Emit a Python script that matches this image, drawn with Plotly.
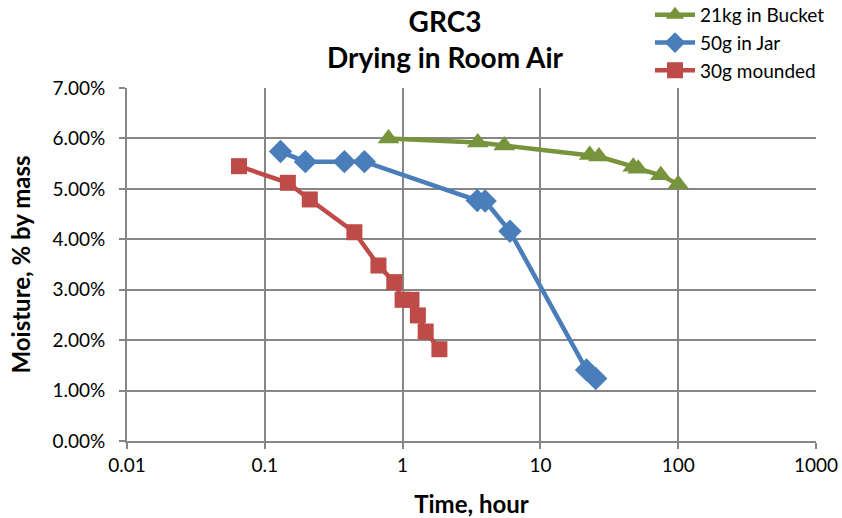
import plotly.graph_objects as go

# Data (time in hours, moisture in % by mass)
bucket_t = [0.79, 3.51, 5.46, 22.8, 26.6, 47.2, 51.3, 74.8, 100]
bucket_m = [6.00, 5.92, 5.86, 5.67, 5.64, 5.44, 5.40, 5.27, 5.09]

jar_t = [0.130, 0.197, 0.378, 0.528, 3.48, 3.97, 6.01, 21.6, 25.2]
jar_m = [5.74, 5.54, 5.54, 5.54, 4.77, 4.76, 4.16, 1.41, 1.24]

mound_t = [0.065, 0.147, 0.212, 0.447, 0.668, 0.87, 1.0, 1.16, 1.29, 1.47, 1.85]
mound_m = [5.45, 5.12, 4.79, 4.14, 3.48, 3.15, 2.80, 2.80, 2.49, 2.17, 1.82]

x_ticks = [0.01, 0.1, 1, 10, 100, 1000]
x_ticktext = ["0.01", "0.1", "1", "10", "100", "1000"]
y_ticks = [0, 1, 2, 3, 4, 5, 6, 7]
y_ticktext = ["0.00%", "1.00%", "2.00%", "3.00%", "4.00%", "5.00%", "6.00%", "7.00%"]

FONT = "Lato, 'Open Sans', sans-serif"
GRID = "#868686"

W, H = 842, 518
ML, MR, MT, MB = 127, 26, 88, 77
PW, PH = W - ML - MR, H - MT - MB


def px_x(p):
    return (p - ML) / PW


def px_y(p):
    return (H - MB - p) / PH


fig = go.Figure()
fig.add_trace(go.Scatter(x=bucket_t, y=bucket_m, name="21kg in Bucket", mode="lines+markers",
                         line=dict(color="#77933C", width=4.5),
                         marker=dict(symbol="triangle-up", size=19, color="#77933C")))
fig.add_trace(go.Scatter(x=jar_t, y=jar_m, name="50g in Jar", mode="lines+markers",
                         line=dict(color="#4A7EBB", width=4.5),
                         marker=dict(symbol="diamond", size=18, color="#4A7EBB")))
fig.add_trace(go.Scatter(x=mound_t, y=mound_m, name="30g mounded", mode="lines+markers",
                         line=dict(color="#BE4B48", width=4.5),
                         marker=dict(symbol="square", size=16, color="#BE4B48")))

fig.update_layout(
    width=W, height=H,
    margin=dict(l=ML, r=MR, t=MT, b=MB, autoexpand=False),
    paper_bgcolor="white", plot_bgcolor="white",
    font=dict(family=FONT, size=19, color="black"),
    showlegend=True,
    legend=dict(x=px_x(650), xanchor="left", y=px_y(-4), yanchor="top",
                bgcolor="rgba(255,255,255,0)", font=dict(size=19),
                itemwidth=40),
    annotations=[
        dict(text="<b>GRC3</b><br><b>Drying in Room Air</b>", xref="paper", yref="paper",
             x=px_x(445), y=px_y(2), xanchor="center", yanchor="top",
             showarrow=False, font=dict(size=28, family=FONT), align="center"),
    ],
)

fig.update_xaxes(
    type="log", range=[-2, 3], tickvals=x_ticks, ticktext=x_ticktext,
    tickfont=dict(size=19),
    showgrid=True, gridcolor=GRID, gridwidth=2,
    showline=True, linecolor=GRID, linewidth=2, mirror=False,
    ticks="outside", ticklen=6, tickcolor=GRID, tickwidth=2,
    title=dict(text="<b>Time, hour</b>", font=dict(size=24, family=FONT), standoff=22),
    zeroline=False,
)
fig.update_yaxes(
    range=[0, 7], tickvals=y_ticks, ticktext=y_ticktext,
    tickfont=dict(size=19), ticklabelstandoff=10,
    showgrid=True, gridcolor=GRID, gridwidth=2,
    showline=True, linecolor=GRID, linewidth=2,
    ticks="outside", ticklen=6, tickcolor=GRID, tickwidth=2,
    title=dict(text="<b>Moisture, % by mass</b>", font=dict(size=24, family=FONT), standoff=15),
    zeroline=False,
)

fig.write_html("out.html", config={"displayModeBar": False},
               post_script="document.body.style.margin='0';")
